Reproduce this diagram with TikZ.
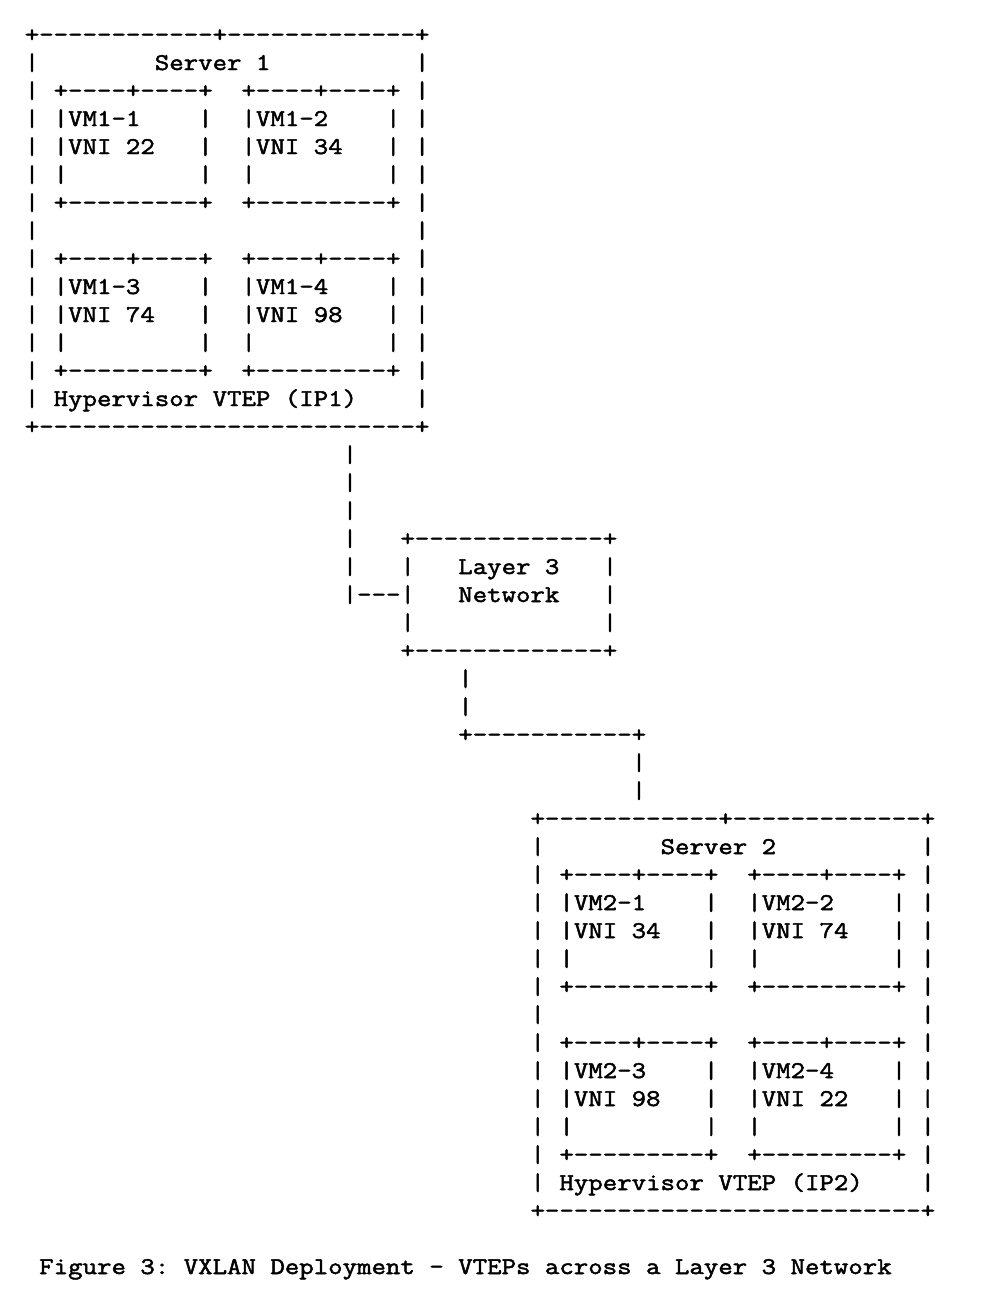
\documentclass[tikz,border=0pt]{standalone}
\usepackage{fontspec}
\setmonofont{Latin Modern Mono}[FakeStretch=1.169, FakeBold=2]
\frenchspacing
\tikzset{asc/.style={font=\ttfamily\fontsize{24}{28}\selectfont, inner sep=0pt, outer sep=0pt, anchor=base west, text=black}}
\newcommand\asrow[4]{\node[asc] (#1) at ({24.8+14.45*#2},{-(42+28*#3)}) {#4};}
\begin{document}
\begin{tikzpicture}[x=1pt,y=1pt]
\useasboundingbox[fill=white] (0,0) rectangle (982,-1294);
% Server 1
\asrow{saa}{0}{0}{+------------+-------------+}
\asrow{sab}{0}{1}{|~~~~~~~~Server~1~~~~~~~~~~|}
\asrow{sac}{0}{2}{|~+----+----+~~+----+----+~|}
\asrow{sad}{0}{3}{|~|VM1-1~~~~|~~|VM1-2~~~~|~|}
\asrow{sae}{0}{4}{|~|VNI~22~~~|~~|VNI~34~~~|~|}
\asrow{saf}{0}{5}{|~|~~~~~~~~~|~~|~~~~~~~~~|~|}
\asrow{sag}{0}{6}{|~+---------+~~+---------+~|}
\asrow{sah}{0}{7}{|~~~~~~~~~~~~~~~~~~~~~~~~~~|}
\asrow{sai}{0}{8}{|~+----+----+~~+----+----+~|}
\asrow{saj}{0}{9}{|~|VM1-3~~~~|~~|VM1-4~~~~|~|}
\asrow{sak}{0}{10}{|~|VNI~74~~~|~~|VNI~98~~~|~|}
\asrow{sal}{0}{11}{|~|~~~~~~~~~|~~|~~~~~~~~~|~|}
\asrow{sam}{0}{12}{|~+---------+~~+---------+~|}
\asrow{san}{0}{13}{|~Hypervisor~VTEP~(IP1)~~~~|}
\asrow{sao}{0}{14}{+--------------------------+}
% links and Layer 3 network
\asrow{ca}{22}{15}{|}
\asrow{cb}{22}{16}{|}
\asrow{cc}{22}{17}{|}
\asrow{cd}{22}{18}{|~~~+-------------+}
\asrow{ce}{22}{19}{|~~~|~~~Layer~3~~~|}
\asrow{cf}{22}{20}{|---|~~~Network~~~|}
\asrow{cg}{26}{21}{|~~~~~~~~~~~~~|}
\asrow{ch}{26}{22}{+-------------+}
\asrow{ci}{30}{23}{|}
\asrow{cj}{30}{24}{|}
\asrow{ck}{30}{25}{+-----------+}
\asrow{cl}{42}{26}{|}
\asrow{cm}{42}{27}{|}
% Server 2
\asrow{sba}{35}{28}{+------------+-------------+}
\asrow{sbb}{35}{29}{|~~~~~~~~Server~2~~~~~~~~~~|}
\asrow{sbc}{35}{30}{|~+----+----+~~+----+----+~|}
\asrow{sbd}{35}{31}{|~|VM2-1~~~~|~~|VM2-2~~~~|~|}
\asrow{sbe}{35}{32}{|~|VNI~34~~~|~~|VNI~74~~~|~|}
\asrow{sbf}{35}{33}{|~|~~~~~~~~~|~~|~~~~~~~~~|~|}
\asrow{sbg}{35}{34}{|~+---------+~~+---------+~|}
\asrow{sbh}{35}{35}{|~~~~~~~~~~~~~~~~~~~~~~~~~~|}
\asrow{sbi}{35}{36}{|~+----+----+~~+----+----+~|}
\asrow{sbj}{35}{37}{|~|VM2-3~~~~|~~|VM2-4~~~~|~|}
\asrow{sbk}{35}{38}{|~|VNI~98~~~|~~|VNI~22~~~|~|}
\asrow{sbl}{35}{39}{|~|~~~~~~~~~|~~|~~~~~~~~~|~|}
\asrow{sbm}{35}{40}{|~+---------+~~+---------+~|}
\asrow{sbn}{35}{41}{|~Hypervisor~VTEP~(IP2)~~~~|}
\asrow{sbo}{35}{42}{+--------------------------+}
% caption
\asrow{cap}{1}{44}{Figure~3:~VXLAN~Deployment~-~VTEPs~across~a~Layer~3~Network}
\end{tikzpicture}
\end{document}
